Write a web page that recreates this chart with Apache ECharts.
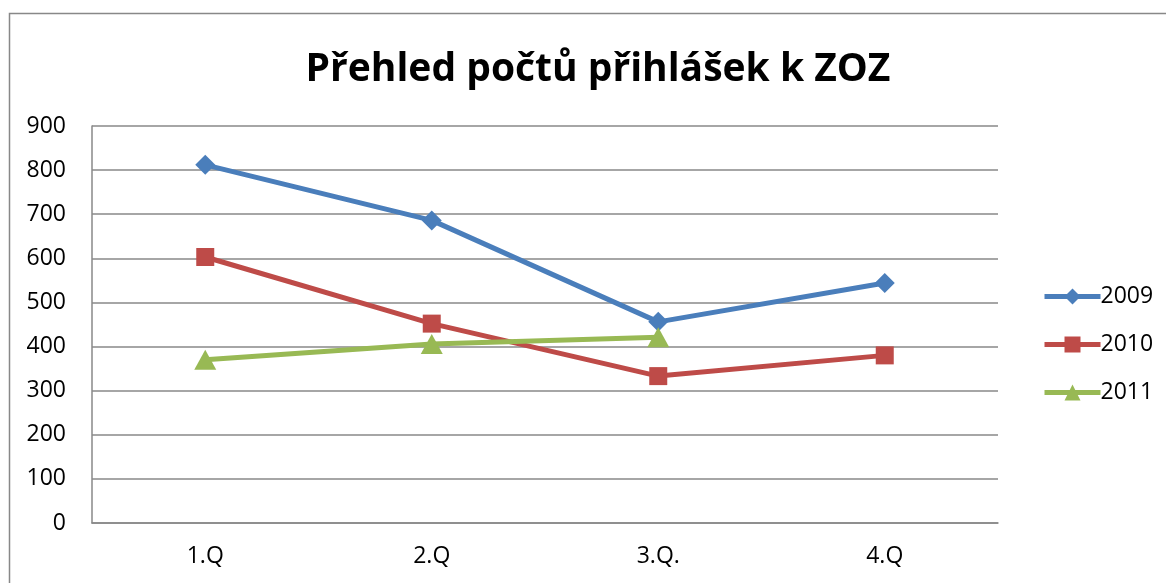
<!DOCTYPE html>
<html>
<head>
<meta charset="utf-8">
<script src="https://cdn.jsdelivr.net/npm/echarts@6/dist/echarts.min.js"></script>
<style>
html,body{margin:0;padding:0;background:#fff;}
#c{width:1166px;height:583px;}
</style>
</head>
<body>
<div id="c"></div>
<script>
var categories = ['1.Q', '2.Q', '3.Q.', '4.Q'];
var s2009 = [812, 686, 456, 544];
var s2010 = [603, 452, 333, 380];
var s2011 = [370, 406, 421, null];
var seriesNames = ['2009', '2010', '2011'];
var yTicks = {min: 0, max: 900, interval: 100};

var colors = ['#4A7EBB', '#BE4B48', '#98B954'];
var symbols = ['diamond', 'rect', 'triangle'];
var symbolSizes = [[20, 20], [18, 18], [22, 20]];
var FONT = '"Open Sans", "Noto Sans", sans-serif';

var chart = echarts.init(document.getElementById('c'));
var dataSets = [s2009, s2010, s2011];
var series = dataSets.map(function (d, i) {
  return {
    name: seriesNames[i],
    type: 'line',
    data: d,
    symbol: symbols[i],
    symbolSize: symbolSizes[i],
    showAllSymbol: true,
    lineStyle: {width: 5, color: colors[i]},
    itemStyle: {color: colors[i]},
    connectNulls: false,
    animation: false
  };
});

chart.setOption({
  animation: false,
  backgroundColor: '#fff',
  title: {
    text: 'Přehled počtů přihlášek k ZOZ',
    left: 593, top: 45, textAlign: 'center',
    textStyle: {fontFamily: FONT, fontWeight: 'bold', fontSize: 39, color: '#000'}
  },
  graphic: [{
    type: 'rect', shape: {x: 9.5, y: 13.5, width: 1170, height: 600},
    style: {fill: 'none', stroke: '#888', lineWidth: 1.5}, silent: true, z: -1
  }],
  legend: {
    orient: 'vertical', left: 1037, top: 280,
    itemWidth: 56, itemHeight: 20, itemGap: 25,
    data: seriesNames.map(function (n, i) {
      return {name: n, lineStyle: {width: 5, color: colors[i]}};
    }),
    textStyle: {fontFamily: FONT, fontSize: 23, color: '#000', padding: [0, 0, 0, -5]}
  },
  grid: {left: 92, right: 168, top: 126, bottom: 60, containLabel: false},
  xAxis: {
    type: 'category', data: categories, boundaryGap: true,
    axisLine: {lineStyle: {color: '#888', width: 1.5}},
    axisTick: {show: false},
    axisLabel: {fontFamily: FONT, fontSize: 23, color: '#000', margin: 22}
  },
  yAxis: {
    type: 'value', min: yTicks.min, max: yTicks.max, interval: yTicks.interval,
    axisLine: {show: true, lineStyle: {color: '#888', width: 1.5}},
    axisTick: {show: false},
    splitLine: {lineStyle: {color: '#888', width: 1.5}},
    axisLabel: {fontFamily: FONT, fontSize: 23, color: '#000', margin: 26}
  },
  series: series
});
</script>
</body>
</html>
